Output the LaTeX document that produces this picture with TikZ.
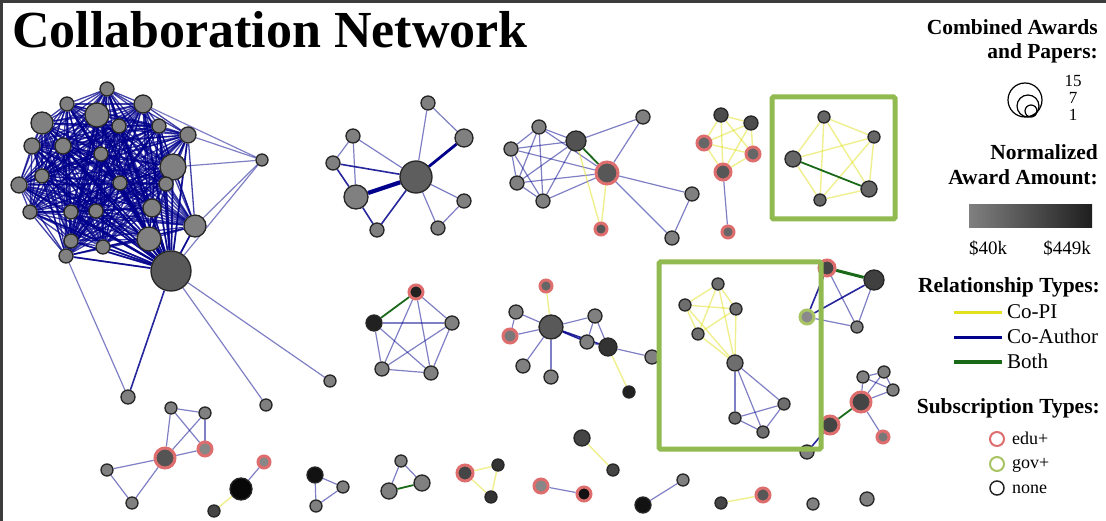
\documentclass[tikz,border=0pt]{standalone}
\usepackage{fontspec}
\setmainfont{Liberation Serif}
\usetikzlibrary{backgrounds}
\definecolor{navy}{RGB}{0,0,140}
\definecolor{cpi}{RGB}{225,225,30}
\definecolor{bothc}{RGB}{25,105,25}
\definecolor{edu}{RGB}{222,110,110}
\definecolor{gov}{RGB}{168,196,100}
\definecolor{boxg}{RGB}{145,187,80}
\definecolor{ng}{RGB}{128,128,128}
\definecolor{frame}{RGB}{60,60,60}
\tikzset{
  nd/.style={circle, draw=black!85, line width=1.3pt, fill=ng, inner sep=0pt},
  eduring/.style={draw=edu, line width=3pt},
  govring/.style={draw=gov, line width=3pt},
  lt/.style={draw=navy, opacity=0.5, line width=1.2pt},
  md/.style={draw=navy, opacity=0.85, line width=1.6pt},
  tk/.style={draw=navy, line width=2.8pt},
  vtk/.style={draw=navy, line width=4.2pt},
  bigc/.style={draw=navy, opacity=0.75, line width=1.3pt},
  copi/.style={draw=cpi, opacity=0.5, line width=1.4pt},
  both/.style={draw=bothc, line width=1.8pt},
  hilite/.style={draw=boxg, line width=5pt, rounded corners=1.5pt},
  hdr/.style={font=\fontsize{21.5}{24}\selectfont\bfseries, inner sep=0pt, anchor=base east},
  lab/.style={font=\fontsize{21}{24}\selectfont, inner sep=0pt, anchor=base west},
  slab/.style={font=\fontsize{18}{20}\selectfont, inner sep=0pt, anchor=base west},
  num/.style={font=\fontsize{17}{19}\selectfont, inner sep=0pt, anchor=base},
  mny/.style={font=\fontsize{19}{22}\selectfont, inner sep=0pt, anchor=base},
  szc/.style={circle, draw=black, line width=1.2pt, inner sep=0pt},
}
% \Nd[extra]{name}{x}{y}{radius}{fill}
\newcommand\Nd[6][]{\node[nd,minimum size={2*#5pt},fill=#6,#1] (#2) at (#3,#4) {};}
\newcommand\Ed[3]{\draw[#1] (#2) -- (#3);}
\begin{document}
\begin{tikzpicture}[x=1pt,y=-1pt]
\useasboundingbox (0,0) rectangle (1106,521);

% ---------- big cluster ----------
\foreach \n/\x/\y/\r in {c1/107/89/7, c2/67/104/7, c3/143/104/9, c4/42/123/11, c5/97/115/12,
  c6/119/126/7, c7/159/126/7, c8/188/135/8, c9/32/146/8, c10/63/146/8, c11/101/154/7,
  c12/173/167/13, c13/42/176/7, c14/19/185/8, c15/120/183/7, c16/166/184/7, c17/30/212/7,
  c18/71/212/7, c19/96/211/7, c20/152/208/9, c21/195/226/11, c22/71/241/7, c23/149/239/12,
  c24/103/247/7, c25/66/256/7}
  {\node[nd,minimum size={2*\r pt}] (\n) at (\x,\y) {};}
\Nd{c26}{171}{271}{20}{black!65}
\Nd{cr}{262}{160}{6}{ng}
\Nd{cb1}{128}{397}{7}{ng}
\Nd{cb2}{266}{405}{6}{ng}
\Nd{cb3}{330}{381}{6}{ng}

% ---------- star cluster ----------
\Nd{s1}{428}{103}{7}{ng}
\Nd{s2}{464}{138}{9}{ng}
\Nd{s3}{353}{136}{7}{ng}
\Nd{s4}{333}{163}{7}{ng}
\Nd{s5}{416}{177}{16}{black!63}
\Nd{s6}{356}{197}{12}{ng}
\Nd{s7}{464}{201}{7}{ng}
\Nd{s8}{377}{230}{7}{ng}
\Nd{s9}{438}{228}{7}{ng}

% ---------- cluster t ----------
\Nd{t1}{539}{127}{7}{ng}
\Nd{t2}{511}{149}{7}{ng}
\Nd{t3}{576}{141}{10}{black!68}
\Nd{t4}{643}{117}{7}{ng}
\Nd[eduring]{t5}{607}{173}{11}{black!66}
\Nd{t6}{517}{183}{7}{ng}
\Nd{t7}{543}{201}{7}{ng}
\Nd[eduring]{t8}{601}{229}{6}{black!66}
\Nd{t9}{692}{194}{7}{ng}
\Nd{t10}{672}{238}{7}{ng}

% ---------- cluster u ----------
\Nd{u1}{721}{115}{7}{black!70}
\Nd{u2}{751}{123}{7}{black!70}
\Nd[eduring]{u3}{704}{143}{7}{black!60}
\Nd[eduring]{u4}{753}{154}{7}{black!60}
\Nd[eduring]{u5}{723}{172}{8}{black!66}
\Nd[eduring]{u6}{728}{232}{6}{black!60}

% ---------- box 1 ----------
\Nd{v1}{824}{117}{6}{black!60}
\Nd{v2}{874}{137}{6}{black!60}
\Nd{v3}{793}{159}{8}{black!60}
\Nd{v4}{869}{189}{8}{black!60}
\Nd{v5}{820}{200}{6}{black!60}

% ---------- K5 ----------
\Nd[eduring]{w1}{416}{292}{7}{black!87}
\Nd{w2}{374}{323}{8}{black!87}
\Nd{w3}{452}{323}{7}{ng}
\Nd{w4}{382}{369}{7}{ng}
\Nd{w5}{431}{373}{7}{ng}

% ---------- middle cluster ----------
\Nd[eduring]{m1}{546}{286}{6}{black!60}
\Nd{m2}{516}{312}{7}{ng}
\Nd[eduring]{m3}{510}{336}{7}{black!53}
\Nd{m4}{551}{327}{12}{black!65}
\Nd{m5}{595}{316}{7}{ng}
\Nd{m6}{587}{342}{7}{ng}
\Nd{m7}{608}{347}{9}{black!80}
\Nd{m8}{652}{357}{7}{ng}
\Nd{m9}{523}{366}{7}{ng}
\Nd{m10}{551}{377}{7}{ng}
\Nd{m11}{629}{392}{6}{black!87}

% ---------- box 2 ----------
\Nd{b1}{718}{284}{6}{black!57}
\Nd{b2}{685}{305}{6}{black!57}
\Nd{b3}{736}{309}{6}{black!57}
\Nd{b4}{698}{334}{6}{black!57}
\Nd{b5}{735}{363}{8}{black!57}
\Nd{b6}{784}{404}{6}{black!57}
\Nd{b7}{735}{418}{6}{black!57}
\Nd{b8}{763}{432}{6}{black!57}

% ---------- right ----------
\Nd[eduring]{r1}{827}{268}{8}{black!73}
\Nd{r2}{874}{280}{10}{black!75}
\Nd[govring]{r3}{807}{317}{7}{black!46}
\Nd{r4}{857}{327}{6}{ng}

\Nd{q1}{863}{377}{6}{ng}
\Nd{q2}{884}{372}{6}{ng}
\Nd{q3}{893}{390}{6}{ng}
\Nd[eduring]{q4}{861}{402}{10}{black!73}
\Nd[eduring]{q5}{830}{425}{9}{black!73}
\Nd[eduring]{q6}{883}{437}{6}{black!53}
\Nd{q7}{807}{452}{7}{ng}

% ---------- bottom ----------
\Nd{p1}{171}{408}{6}{ng}
\Nd{p2}{205}{413}{6}{ng}
\Nd[eduring]{p3}{205}{449}{7}{black!47}
\Nd[eduring]{p4}{165}{458}{10}{black!67}
\Nd{p5}{107}{470}{6}{ng}
\Nd{p6}{132}{503}{6}{ng}

\Nd[eduring]{a1}{264}{462}{6}{black!47}
\Nd{a2}{241}{489}{11}{black!97}
\Nd{a3}{214}{511}{6}{black!73}

\Nd{e1}{315}{475}{8}{black!93}
\Nd{e2}{343}{487}{6}{ng}
\Nd{e3}{316}{506}{6}{ng}

\Nd{f1}{401}{461}{6}{ng}
\Nd{f2}{422}{483}{8}{ng}
\Nd{f3}{389}{491}{8}{ng}

\Nd[eduring]{g1}{465}{473}{8}{black!73}
\Nd{g2}{498}{465}{6}{black!80}
\Nd{g3}{491}{497}{6}{black!80}

\Nd{h1}{582}{438}{8}{black!73}
\Nd{h2}{613}{470}{6}{black!73}

\Nd[eduring]{i1}{541}{486}{7}{black!47}
\Nd[eduring]{i2}{584}{494}{7}{black!93}

\Nd{j1}{643}{505}{8}{black!93}
\Nd{j2}{683}{480}{6}{ng}

\Nd{k1}{721}{503}{6}{black!73}
\Nd[eduring]{k2}{763}{495}{7}{black!66}

\Nd{l1}{813}{504}{6}{ng}
\Nd{l2}{867}{499}{7}{ng}

% ---------- edges ----------
\begin{pgfonlayer}{background}
\fill[white] (0,0) rectangle (1106,521);
\foreach \i in {1,...,25}{
  \pgfmathtruncatemacro\nx{\i+1}
  \foreach \j in {\nx,...,26}{\draw[bigc] (c\i) -- (c\j);}
}
\foreach \i in {1,...,25}{\draw[draw=navy,opacity=0.8,line width=1.7pt] (c\i) -- (c26);}
\foreach \i in {3,8,12,21,26}{\draw[lt] (cr) -- (c\i);}
\Ed{lt}{cb1}{c25}
\Ed{md}{cb1}{c26}
\Ed{lt}{cb2}{c26}
\Ed{lt}{cb3}{c26}

\Ed{lt}{s1}{s5} \Ed{lt}{s1}{s2} \Ed{tk}{s2}{s5} \Ed{lt}{s3}{s4} \Ed{lt}{s3}{s6}
\Ed{lt}{s3}{s5} \Ed{md}{s4}{s5} \Ed{md}{s4}{s6} \Ed{vtk}{s6}{s5} \Ed{md}{s6}{s8}
\Ed{md}{s8}{s5} \Ed{lt}{s5}{s7} \Ed{lt}{s5}{s9} \Ed{lt}{s9}{s7}

\foreach \a/\b in {t1/t2,t1/t3,t1/t6,t1/t7,t2/t3,t2/t6,t2/t7,t3/t6,t3/t7,t6/t7,
  t1/t5,t2/t5,t6/t5,t7/t5,t4/t5,t4/t3,t5/t9,t5/t10,t9/t10}{\draw[lt] (\a) -- (\b);}
\Ed{both}{t3}{t5}
\Ed{copi}{t3}{t8} \Ed{copi}{t5}{t8}

\foreach \a/\b in {u1/u2,u1/u3,u1/u4,u1/u5,u2/u3,u2/u4,u2/u5,u3/u4,u3/u5,u4/u5}{\draw[copi] (\a) -- (\b);}
\Ed{lt}{u5}{u6}

\foreach \a/\b in {v1/v2,v1/v3,v1/v4,v1/v5,v2/v3,v2/v4,v2/v5,v3/v5,v4/v5}{\draw[copi] (\a) -- (\b);}
\Ed{both}{v3}{v4}

\Ed{both}{w1}{w2}
\foreach \a/\b in {w1/w3,w1/w4,w1/w5,w2/w3,w2/w4,w2/w5,w3/w4,w3/w5,w4/w5}{\draw[lt] (\a) -- (\b);}

\Ed{copi}{m1}{m4} \Ed{copi}{m7}{m11}
\foreach \a/\b in {m2/m3,m2/m4,m3/m4,m4/m9,m4/m10,m4/m5,m5/m6,m5/m7,m6/m7,m7/m8}{\draw[lt] (\a) -- (\b);}
\Ed{md}{m4}{m6} \Ed{md}{m4}{m7}

\foreach \a/\b in {b1/b2,b1/b3,b1/b4,b1/b5,b2/b3,b2/b4,b2/b5,b3/b4,b3/b5,b4/b5}{\draw[copi] (\a) -- (\b);}
\foreach \a/\b in {b5/b6,b5/b7,b5/b8,b6/b7,b6/b8,b7/b8}{\draw[lt] (\a) -- (\b);}

\draw[both,line width=3pt] (r1) -- (r2);
\Ed{md}{r1}{r3} \Ed{md}{r2}{r3}
\Ed{lt}{r1}{r4} \Ed{lt}{r2}{r4} \Ed{lt}{r3}{r4}

\foreach \a/\b in {q1/q2,q1/q3,q2/q3,q1/q4,q2/q4,q3/q4,q4/q6}{\draw[lt] (\a) -- (\b);}
\Ed{both}{q4}{q5} \Ed{md}{q5}{q7}

\foreach \a/\b in {p1/p2,p1/p4,p1/p3,p2/p3,p2/p4,p4/p3,p4/p5,p4/p6,p5/p6}{\draw[lt] (\a) -- (\b);}

\Ed{lt}{a1}{a2} \Ed{copi}{a2}{a3}
\Ed{lt}{e1}{e2} \Ed{lt}{e1}{e3} \Ed{lt}{e2}{e3}
\Ed{lt}{f1}{f2} \Ed{lt}{f1}{f3} \Ed{both}{f3}{f2}
\Ed{copi}{g1}{g2} \Ed{copi}{g1}{g3} \Ed{copi}{g2}{g3}
\Ed{copi}{h1}{h2}
\Ed{lt}{i1}{i2}
\Ed{lt}{j1}{j2}
\Ed{copi}{k1}{k2}
\end{pgfonlayer}

% ---------- highlight boxes ----------
\draw[hilite] (772,97) rectangle (895,219);
\draw[hilite] (659,262) rectangle (821,449);

% ---------- frame ----------
\fill[frame] (0,0) rectangle (1106,3);
\fill[frame] (0,0) rectangle (3,521);

% ---------- title ----------
\node[anchor=base west, inner sep=0pt, font=\fontsize{52}{60}\selectfont\bfseries] (title) at (12,48) {Collaboration Network};

% ---------- legend ----------
\node[hdr] (lgA) at (1098,35) {Combined Awards};
\node[hdr] (lgB) at (1098,59) {and Papers:};
\node[szc, minimum size=34pt] (sz15) at (1025,100) {};
\node[szc, minimum size=22pt] (sz7) at (1028,106) {};
\node[szc, minimum size=12pt] (sz1) at (1031,111) {};
\node[num] (n15) at (1073,87) {15};
\node[num] (n7) at (1073,104) {7};
\node[num] (n1) at (1073,121) {1};

\node[hdr] (lgC) at (1098,160) {Normalized};
\node[hdr] (lgD) at (1098,185) {Award Amount:};
\shade[left color=black!50, right color=black!88] (969,205) rectangle (1092,228);
\node[mny] (lo) at (988,255) {\$40k};
\node[mny] (hi) at (1067,255) {\$449k};

\node[hdr] (lgE) at (1100,293) {Relationship Types:};
\draw[draw=cpi, line width=3pt] (954,313) -- (1002,313);
\draw[draw=navy, line width=3pt] (954,338) -- (1002,338);
\draw[draw=bothc, line width=3pt] (954,362) -- (1002,362);
\node[lab] (lcopi) at (1007,319) {Co-PI};
\node[lab] (lcoa) at (1007,344) {Co-Author};
\node[lab] (lboth) at (1007,368) {Both};

\node[hdr] (lgF) at (1100,413) {Subscription Types:};
\node[circle,draw=edu,line width=2pt,inner sep=0pt,minimum size=14pt] (sedu) at (997,439) {};
\node[circle,draw=gov,line width=2pt,inner sep=0pt,minimum size=14pt] (sgov) at (997,464) {};
\node[circle,draw=black!85,line width=1.5pt,inner sep=0pt,minimum size=14pt] (snone) at (997,488) {};
\node[slab] (tedu) at (1012,444) {edu+};
\node[slab] (tgov) at (1012,468) {gov+};
\node[slab] (tnone) at (1012,493) {none};
\end{tikzpicture}
\end{document}
